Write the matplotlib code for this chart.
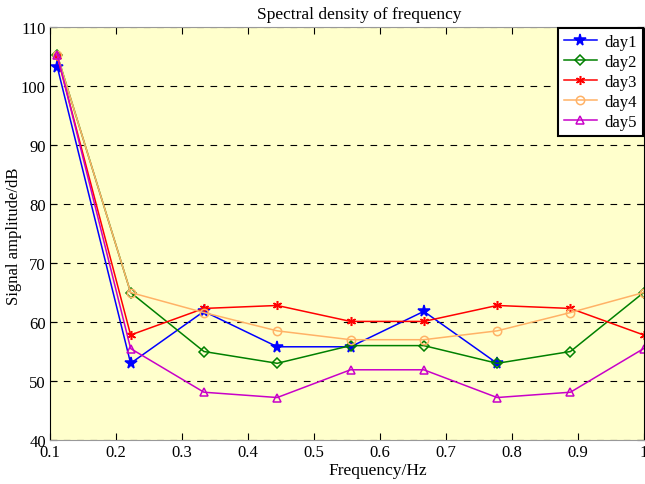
import numpy as np
import matplotlib
matplotlib.use("Agg")
import matplotlib.pyplot as plt

plt.rcParams["font.family"] = ["Liberation Serif", "DejaVu Serif"]

# frequency bins (Hz) and spectral amplitude per day (dB)
freq = np.arange(1, 10) / 9.0
day1 = [103.2, 53.0, 61.8, 55.8, 55.8, 61.8, 53.0]
day2 = [105.2, 65.0, 55.0, 53.0, 56.0, 56.0, 53.0, 55.0, 65.0]
day3 = [105.0, 57.8, 62.3, 62.8, 60.1, 60.1, 62.8, 62.3, 57.8]
day4 = [105.2, 65.0, 61.6, 58.5, 57.0, 57.0, 58.5, 61.6, 65.0]
day5 = [105.3, 55.5, 48.1, 47.2, 51.9, 51.9, 47.2, 48.1, 55.5]

x_ticks = [0.1, 0.2, 0.3, 0.4, 0.5, 0.6, 0.7, 0.8, 0.9, 1.0]
x_ticklabels = ["0.1", "0.2", "0.3", "0.4", "0.5", "0.6", "0.7", "0.8", "0.9", "1"]
y_ticks = [40, 50, 60, 70, 80, 90, 100, 110]

series = [
    ("day1", day1, "#0000ff", "*", "#0000ff", 8.5),
    ("day2", day2, "#008000", "D", "none", 5),
    ("day3", day3, "#ff0000", (6, 2, 0), "#ff0000", 6.5),
    ("day4", day4, "#ffb266", "o", "none", 6),
    ("day5", day5, "#c800c8", "^", "none", 6),
]

fig = plt.figure(figsize=(6.45, 4.85), dpi=100)
ax = fig.add_axes([0.0775, 0.0907, 0.9205, 0.8516])
ax.set_facecolor("#ffffcc")

for name, vals, color, marker, face, ms in series:
    ax.plot(freq[:len(vals)], vals, color=color, lw=1.1, marker=marker,
            markersize=ms, markerfacecolor=face, markeredgecolor=color,
            markeredgewidth=1.1, label=name)

ax.set_xlim(0.1, 1.0)
ax.set_ylim(40, 110)
ax.set_xticks(x_ticks)
ax.set_xticklabels(x_ticklabels)
ax.set_yticks(y_ticks)
ax.tick_params(direction="in", length=5, labelsize=12, top=True, right=True,
               width=0.8, pad=3)
ax.yaxis.grid(True, linestyle=(0, (6, 6)), color="black", lw=0.8)
ax.set_axisbelow(True)
for side in ["top", "bottom"]:
    ax.spines[side].set_color("#999999")
ax.spines["left"].set_color("black")
ax.spines["right"].set_color("black")

# labels placed in figure pixels from the top-left corner
fig.text(359 / 645, 1 - 15 / 485, "Spectral density of frequency",
         ha="center", va="center", fontsize=12.5)
fig.text(378 / 645, 1 - 471 / 485, "Frequency/Hz",
         ha="center", va="center", fontsize=12.5)
fig.text(14 / 645, 1 - 236 / 485, "Signal amplitude/dB",
         ha="center", va="center", rotation=90, fontsize=12)

leg = ax.legend(loc="upper right", fontsize=12, fancybox=False, framealpha=1,
                borderaxespad=0.05, handlelength=2.0, handletextpad=0.45,
                labelspacing=0.25, borderpad=0.35, edgecolor="black")
leg.get_frame().set_linewidth(1.5)
leg.get_frame().set_facecolor("white")

fig.savefig("out.png", dpi=100)
